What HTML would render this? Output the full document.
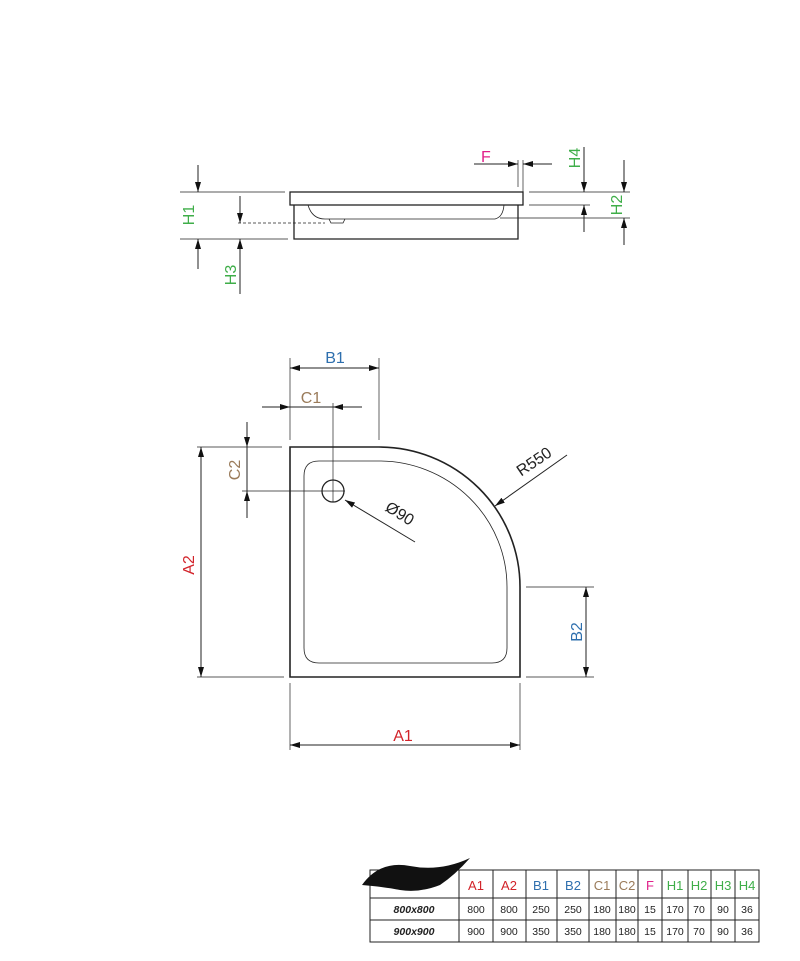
<!DOCTYPE html>
<html><head><style>
body{margin:0;background:#fff;}
svg text{font-family:"Liberation Sans",sans-serif;}
</style></head><body>
<svg width="800" height="956" viewBox="0 0 800 956" xmlns="http://www.w3.org/2000/svg">
<defs>
<marker id="a" viewBox="0 0 10 6" refX="10" refY="3" markerWidth="10" markerHeight="6" orient="auto" markerUnits="userSpaceOnUse"><path d="M0,0 L10,3 L0,6z" fill="#111"/></marker>
</defs>
<g stroke="#222" fill="none" stroke-width="1">
<rect x="290" y="192" width="233" height="13" stroke-width="1.3"/>
<path d="M294 205 V239 H518 V205" stroke-width="1.3"/>
<path d="M308 205 Q312 219 325 219 H495 Q503 217 504 205" stroke-width="0.8"/>
<path d="M329 219 L331 223 H343 L345 219" stroke-width="0.8"/>
<line x1="238" y1="223" x2="325" y2="223" stroke-dasharray="3,2" stroke-width="0.8"/>
<line x1="180" y1="192" x2="285" y2="192" stroke-width="0.7"/>
<line x1="180" y1="239" x2="288" y2="239" stroke-width="0.7"/>
<line x1="198" y1="165" x2="198" y2="192" marker-end="url(#a)"/>
<line x1="198" y1="269" x2="198" y2="239" marker-end="url(#a)"/>
<line x1="240" y1="196" x2="240" y2="223" marker-end="url(#a)"/>
<line x1="240" y1="294" x2="240" y2="239" marker-end="url(#a)"/>
<line x1="474" y1="164" x2="518" y2="164" marker-end="url(#a)"/>
<line x1="552" y1="164" x2="523" y2="164" marker-end="url(#a)"/>
<line x1="518" y1="160" x2="518" y2="187" stroke-width="0.7"/>
<line x1="523" y1="160" x2="523" y2="192" stroke-width="0.7"/>
<line x1="529" y1="192" x2="630" y2="192" stroke-width="0.7"/>
<line x1="529" y1="205" x2="590" y2="205" stroke-width="0.7"/>
<line x1="500" y1="218" x2="630" y2="218" stroke-width="0.7"/>
<line x1="584" y1="147" x2="584" y2="192" marker-end="url(#a)"/>
<line x1="584" y1="232" x2="584" y2="205" marker-end="url(#a)"/>
<line x1="624" y1="160" x2="624" y2="192" marker-end="url(#a)"/>
<line x1="624" y1="245" x2="624" y2="218" marker-end="url(#a)"/>
<path d="M290 447 H379 A141 140 0 0 1 520 587 V677 H290 Z" stroke-width="1.6"/>
<path d="M319 461 H379 A128 126 0 0 1 507 587 V648 Q507 663 492 663 H319 Q304 663 304 648 V476 Q304 461 319 461 Z" stroke-width="0.8"/>
<circle cx="333" cy="491" r="11" stroke-width="1.3"/>
<line x1="333" y1="403" x2="333" y2="502" stroke-width="0.7"/>
<line x1="242" y1="491" x2="345" y2="491" stroke-width="0.7"/>
<line x1="290" y1="358" x2="290" y2="440" stroke-width="0.7"/>
<line x1="379" y1="358" x2="379" y2="440" stroke-width="0.7"/>
<line x1="335" y1="368" x2="290" y2="368" marker-end="url(#a)"/>
<line x1="335" y1="368" x2="379" y2="368" marker-end="url(#a)"/>
<line x1="262" y1="407" x2="290" y2="407" marker-end="url(#a)"/>
<line x1="362" y1="407" x2="333" y2="407" marker-end="url(#a)"/>
<line x1="290" y1="407" x2="333" y2="407"/>
<line x1="197" y1="447" x2="282" y2="447" stroke-width="0.7"/>
<line x1="247" y1="422" x2="247" y2="447" marker-end="url(#a)"/>
<line x1="247" y1="518" x2="247" y2="491" marker-end="url(#a)"/>
<line x1="247" y1="447" x2="247" y2="491"/>
<line x1="197" y1="677" x2="284" y2="677" stroke-width="0.7"/>
<line x1="201" y1="560" x2="201" y2="447" marker-end="url(#a)"/>
<line x1="201" y1="560" x2="201" y2="677" marker-end="url(#a)"/>
<line x1="290" y1="683" x2="290" y2="750" stroke-width="0.7"/>
<line x1="520" y1="683" x2="520" y2="750" stroke-width="0.7"/>
<line x1="405" y1="745" x2="290" y2="745" marker-end="url(#a)"/>
<line x1="405" y1="745" x2="520" y2="745" marker-end="url(#a)"/>
<line x1="526" y1="587" x2="594" y2="587" stroke-width="0.7"/>
<line x1="526" y1="677" x2="594" y2="677" stroke-width="0.7"/>
<line x1="586" y1="632" x2="586" y2="587" marker-end="url(#a)"/>
<line x1="586" y1="632" x2="586" y2="677" marker-end="url(#a)"/>
<line x1="567" y1="455" x2="495" y2="506" marker-end="url(#a)"/>
<line x1="415" y1="542" x2="345" y2="500" marker-end="url(#a)"/>
</g>
<g font-size="16">
<text x="481" y="162" fill="#e0218a">F</text>
<text transform="translate(194,215) rotate(-90)" text-anchor="middle" fill="#3fae49">H1</text>
<text transform="translate(236,275) rotate(-90)" text-anchor="middle" fill="#3fae49">H3</text>
<text transform="translate(580,158) rotate(-90)" text-anchor="middle" fill="#3fae49">H4</text>
<text transform="translate(622,205) rotate(-90)" text-anchor="middle" fill="#3fae49">H2</text>
<text x="335" y="363" text-anchor="middle" fill="#2e6fae">B1</text>
<text x="311" y="403" text-anchor="middle" fill="#9a7b5a">C1</text>
<text transform="translate(240,470) rotate(-90)" text-anchor="middle" fill="#9a7b5a">C2</text>
<text transform="translate(194,565) rotate(-90)" text-anchor="middle" fill="#d2232a">A2</text>
<text x="403" y="741" text-anchor="middle" fill="#d2232a">A1</text>
<text transform="translate(582,632) rotate(-90)" text-anchor="middle" fill="#2e6fae">B2</text>
<text transform="translate(537,466) rotate(-34)" text-anchor="middle" fill="#222">R550</text>
<text transform="translate(397,518) rotate(32)" text-anchor="middle" fill="#222">Ø90</text>
</g>
<g stroke="#222" stroke-width="1" fill="none">
<rect x="370" y="870" width="389" height="72"/>
<line x1="370" y1="898" x2="759" y2="898"/>
<line x1="370" y1="920" x2="759" y2="920"/>
<line x1="459" y1="870" x2="459" y2="942"/>
<line x1="493" y1="870" x2="493" y2="942"/>
<line x1="526" y1="870" x2="526" y2="942"/>
<line x1="557" y1="870" x2="557" y2="942"/>
<line x1="589" y1="870" x2="589" y2="942"/>
<line x1="616" y1="870" x2="616" y2="942"/>
<line x1="638" y1="870" x2="638" y2="942"/>
<line x1="662" y1="870" x2="662" y2="942"/>
<line x1="688" y1="870" x2="688" y2="942"/>
<line x1="711" y1="870" x2="711" y2="942"/>
<line x1="735" y1="870" x2="735" y2="942"/>
</g>
<path d="M362 885 Q380 860 410 866 Q440 872 470 858 Q455 875 440 885 Q420 893 400 890 Q385 887 362 885Z" fill="#111"/>
<g font-size="13" text-anchor="middle">
<text x="476" y="890" fill="#d2232a">A1</text>
<text x="509" y="890" fill="#d2232a">A2</text>
<text x="541" y="890" fill="#2e6fae">B1</text>
<text x="573" y="890" fill="#2e6fae">B2</text>
<text x="602" y="890" fill="#9a7b5a">C1</text>
<text x="627" y="890" fill="#9a7b5a">C2</text>
<text x="650" y="890" fill="#e0218a">F</text>
<text x="675" y="890" fill="#3fae49">H1</text>
<text x="699" y="890" fill="#3fae49">H2</text>
<text x="723" y="890" fill="#3fae49">H3</text>
<text x="747" y="890" fill="#3fae49">H4</text>
</g>
<g font-size="10.5" text-anchor="middle" fill="#222">
<text x="414" y="913" font-weight="bold" font-style="italic">800x800</text>
<text x="476" y="913">800</text><text x="509" y="913">800</text><text x="541" y="913">250</text><text x="573" y="913">250</text><text x="602" y="913">180</text><text x="627" y="913">180</text><text x="650" y="913">15</text><text x="675" y="913">170</text><text x="699" y="913">70</text><text x="723" y="913">90</text><text x="747" y="913">36</text>
<text x="414" y="935" font-weight="bold" font-style="italic">900x900</text>
<text x="476" y="935">900</text><text x="509" y="935">900</text><text x="541" y="935">350</text><text x="573" y="935">350</text><text x="602" y="935">180</text><text x="627" y="935">180</text><text x="650" y="935">15</text><text x="675" y="935">170</text><text x="699" y="935">70</text><text x="723" y="935">90</text><text x="747" y="935">36</text>
</g>
</svg>
</body></html>
